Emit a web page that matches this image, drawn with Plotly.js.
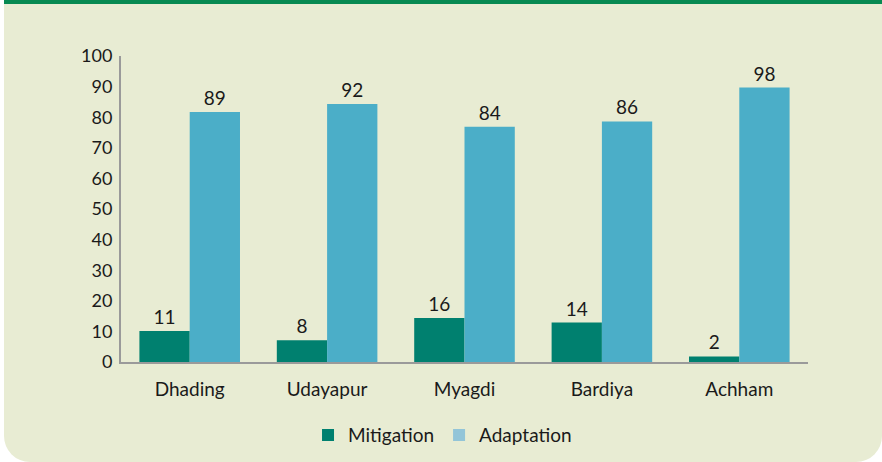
<!DOCTYPE html>
<html>
<head>
<meta charset="utf-8">
<script src="https://cdn.plot.ly/plotly-3.0.1.min.js"></script>
<style>
  html, body { margin: 0; padding: 0; background: #ffffff; }
  #frame {
    position: absolute; left: 4px; top: 0; width: 878px; height: 458px;
    background: #E8ECD3; border-top: 4px solid #078A52;
    border-bottom-left-radius: 26px; border-bottom-right-radius: 26px;
  }
  #chart { position: absolute; left: 0; top: 0; width: 882px; height: 462px; }
</style>
</head>
<body>
<div id="frame"></div>
<div id="chart"></div>
<script>
// Districts
const categories = ["Dhading", "Udayapur", "Myagdi", "Bardiya", "Achham"];
// Printed data labels
const mitigationLabels = [11, 8, 16, 14, 2];
const adaptationLabels = [89, 92, 84, 86, 98];
// Bar heights as drawn against the 0-100 axis
const mitigationBars = [10.1, 7.1, 14.4, 12.9, 1.8];
const adaptationBars = [81.7, 84.3, 76.9, 78.6, 89.7];
const yTicks = [0, 10, 20, 30, 40, 50, 60, 70, 80, 90, 100];

const FONT = "Lato, 'Open Sans', sans-serif";
const TXT = "#1a1a1a";

const traces = [
  {
    type: "bar", name: "Mitigation", x: categories, y: mitigationBars, offsetgroup: "m",
    text: mitigationLabels.map(String), textposition: "outside", cliponaxis: false,
    textfont: {family: FONT, size: 19, color: TXT},
    marker: {color: "#00806F", line: {width: 0}},
    showlegend: false, hoverinfo: "skip"
  },
  {
    type: "bar", name: "Adaptation", x: categories, y: adaptationBars, offsetgroup: "a",
    text: adaptationLabels.map(String), textposition: "outside", cliponaxis: false,
    textfont: {family: FONT, size: 19, color: TXT},
    marker: {color: "#4BAEC8", line: {width: 0}},
    showlegend: false, hoverinfo: "skip"
  },
  {
    type: "bar", name: "Mitigation", x: [categories[0]], y: [null], offsetgroup: "m",
    marker: {color: "#00806F"}, showlegend: true, hoverinfo: "skip"
  },
  {
    type: "bar", name: "Adaptation", x: [categories[0]], y: [null], offsetgroup: "a",
    marker: {color: "#93C5D8"}, showlegend: true, hoverinfo: "skip"
  }
];

const layout = {
  width: 882, height: 462,
  margin: {l: 121, r: 74, t: 56, b: 100, pad: 0, autoexpand: false},
  paper_bgcolor: "rgba(0,0,0,0)",
  plot_bgcolor: "rgba(0,0,0,0)",
  barmode: "group", bargap: 0.268, bargroupgap: 0,
  font: {family: FONT, size: 18, color: TXT},
  xaxis: {
    type: "category", showgrid: false, zeroline: false,
    showline: true, linecolor: "#9a9a9a", linewidth: 2,
    ticks: "", ticklabelstandoff: 9, automargin: false,
    tickfont: {family: FONT, size: 19, color: TXT}
  },
  yaxis: {
    range: [0, 100], tickvals: yTicks, ticktext: yTicks.map(String),
    showgrid: false, zeroline: false, automargin: false,
    showline: true, linecolor: "#9a9a9a", linewidth: 2,
    ticks: "", ticklabelstandoff: 3,
    tickfont: {family: FONT, size: 18, color: TXT}
  },
  legend: {
    orientation: "h", x: 0.468, xanchor: "center", y: -0.239, yanchor: "middle",
    font: {family: FONT, size: 19, color: TXT}, itemwidth: 30,
    bgcolor: "rgba(0,0,0,0)", traceorder: "normal"
  },
  showlegend: true
};

Plotly.newPlot("chart", traces, layout, {displayModeBar: false, staticPlot: true});
</script>
</body>
</html>
